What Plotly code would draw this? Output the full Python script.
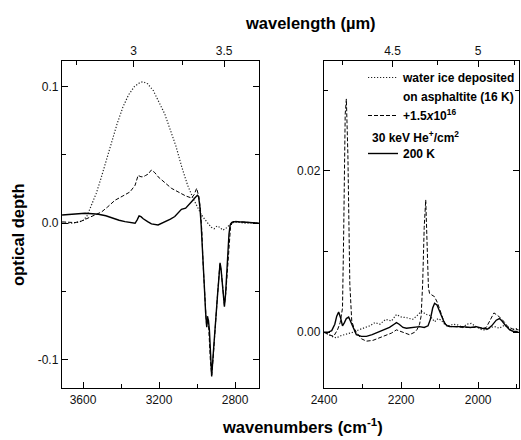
import plotly.graph_objects as go

# ---------------- data ----------------
# Left panel (3 µm region), wavenumber cm-1 / optical depth
wn_left_water = [3710, 3660, 3620, 3600, 3580, 3555, 3530, 3505, 3480, 3450, 3420, 3390, 3360, 3330,
                 3300, 3283, 3260, 3230, 3200, 3170, 3140, 3110, 3080, 3050, 3020, 3000, 2980, 2960,
                 2940, 2925, 2910, 2895, 2880, 2865, 2850, 2835, 2820, 2800, 2770, 2740, 2710, 2674]
od_left_water = [0.0, 0.0, 0.001, 0.002, 0.005, 0.013, 0.022, 0.033, 0.045, 0.060, 0.073, 0.085, 0.094, 0.100,
                 0.103, 0.1035, 0.102, 0.097, 0.089, 0.080, 0.068, 0.056, 0.041, 0.028, 0.018, 0.012, 0.007, 0.003,
                 0.000, -0.003, -0.004, -0.002, -0.003, -0.005, -0.004, -0.002, 0.000, 0.001, 0.0005, 0.0, 0.0005, 0.0]

wn_left_irr = [3710, 3680, 3642, 3610, 3572, 3540, 3502, 3470, 3432, 3390, 3353, 3326, 3310, 3295, 3283,
               3270, 3257, 3240, 3222, 3205, 3170, 3135, 3100, 3060, 3029, 3015, 3002, 2990, 2982, 2975,
               2968, 2958, 2950, 2944, 2938, 2930, 2923, 2916, 2908, 2893, 2880, 2872, 2864, 2856, 2848,
               2840, 2832, 2824, 2815, 2800, 2780, 2750, 2720, 2690, 2674]
od_left_irr = [0.001, 0.0008, 0.0005, 0.0015, 0.0037, 0.006, 0.0083, 0.012, 0.0168, 0.020, 0.0229, 0.0278,
               0.035, 0.034, 0.034, 0.035, 0.036, 0.039, 0.037, 0.034, 0.030, 0.0256, 0.023, 0.020, 0.0185,
               0.021, 0.0256, 0.019, 0.010, -0.005, -0.030, -0.060, -0.075, -0.068, -0.078, -0.100, -0.111,
               -0.100, -0.082, -0.054, -0.030, -0.036, -0.048, -0.060, -0.050, -0.034, -0.014, -0.003,
               0.0005, 0.0015, 0.0012, 0.001, 0.0005, 0.0003, 0.0]

wn_left_200k = [3710, 3650, 3589, 3550, 3519, 3480, 3449, 3410, 3379, 3340, 3326, 3315, 3305, 3295, 3283,
                3260, 3240, 3205, 3170, 3140, 3117, 3100, 3082, 3060, 3045, 3029, 3012, 2998, 2992, 2985,
                2978, 2970, 2962, 2955, 2949, 2944, 2940, 2935, 2930, 2923, 2916, 2909, 2900, 2893, 2885,
                2879, 2874, 2868, 2862, 2856, 2850, 2844, 2838, 2832, 2826, 2818, 2809, 2790, 2774, 2740,
                2710, 2674]
od_left_200k = [0.0061, 0.0068, 0.0073, 0.0070, 0.0066, 0.0055, 0.0040, 0.0022, 0.0012, 0.0002, 0.0, 0.0025,
                0.0054, 0.0048, 0.0033, 0.0012, -0.0005, -0.0012, 0.0008, 0.0030, 0.0049, 0.0075, 0.0102,
                0.0110, 0.0130, 0.0158, 0.0185, 0.0205, 0.0195, 0.012, -0.002, -0.020, -0.045, -0.065,
                -0.076, -0.069, -0.071, -0.078, -0.095, -0.112, -0.098, -0.082, -0.066, -0.054, -0.040,
                -0.029, -0.033, -0.041, -0.052, -0.061, -0.052, -0.034, -0.020, -0.008, -0.0015, 0.0005,
                0.0012, 0.0012, 0.001, 0.0008, 0.0004, 0.0]

# Right panel (4-5 µm region)
wn_right_water = [2400, 2390, 2380, 2368, 2355, 2340, 2325, 2310, 2295, 2281, 2268, 2255, 2240, 2225, 2212,
                  2200, 2185, 2170, 2160, 2147, 2134, 2126, 2113, 2104, 2096, 2087, 2078, 2065, 2052, 2040,
                  2030, 2018, 2005, 1990, 1979, 1968, 1957, 1945, 1931, 1922, 1914, 1905, 1895]
od_right_water = [0.0, -0.0002, -0.0005, -0.0007, -0.0004, -0.0002, 0.0, 0.0003, 0.0006, 0.0008, 0.0012,
                  0.0010, 0.0016, 0.0014, 0.0022, 0.0019, 0.0018, 0.0016, 0.0020, 0.0026, 0.0022, 0.0021,
                  0.0013, 0.0017, 0.0015, 0.0010, 0.0007, 0.0010, 0.0009, 0.0006, 0.0010, 0.0011, 0.0007,
                  0.0003, 0.0003, 0.0006, 0.0007, 0.0005, 0.0009, 0.0006, 0.0003, 0.0004, 0.0005]

wn_right_irr = [2400, 2388, 2375, 2365, 2358, 2352, 2349, 2345, 2342, 2338, 2333, 2328, 2322, 2316, 2303,
                2290, 2273, 2256, 2240, 2225, 2212, 2195, 2178, 2165, 2159, 2152, 2148, 2144, 2140, 2136,
                2132, 2129, 2126, 2120, 2113, 2106, 2100, 2090, 2083, 2070, 2061, 2040, 2020, 2000, 1985,
                1979, 1970, 1959, 1950, 1940, 1931, 1923, 1910, 1901, 1895]
od_right_irr = [0.0, -0.0003, -0.0005, 0.0003, 0.0012, 0.003, 0.012, 0.027, 0.0289, 0.022, 0.006, 0.0014,
                0.0005, 0.0, -0.0008, -0.0011, -0.0010, -0.0007, -0.0004, -0.0001, 0.0003, 0.0, -0.0003,
                0.0, 0.0003, 0.0010, 0.0020, 0.006, 0.013, 0.0164, 0.010, 0.0055, 0.0048, 0.0046, 0.0044,
                0.0037, 0.0028, 0.0015, 0.0009, 0.0007, 0.0007, 0.0006, 0.0006, 0.0006, 0.0005, 0.0006,
                0.0014, 0.0024, 0.0021, 0.0017, 0.0012, 0.0007, 0.0004, 0.0003, 0.0003]

wn_right_200k = [2400, 2390, 2380, 2372, 2367, 2362, 2357, 2352, 2347, 2342, 2336, 2330, 2323, 2316, 2303,
                 2290, 2275, 2260, 2245, 2230, 2218, 2212, 2205, 2195, 2186, 2170, 2152, 2140, 2130, 2124,
                 2118, 2113, 2107, 2100, 2093, 2087, 2080, 2074, 2060, 2040, 2020, 2005, 1990, 1975, 1965,
                 1953, 1945, 1940, 1930, 1918, 1908, 1901, 1895]
od_right_200k = [0.0, 0.0, 0.0002, 0.0010, 0.0020, 0.0025, 0.0018, 0.0008, 0.0012, 0.0017, 0.0019, 0.0012,
                 0.0003, -0.0003, -0.0005, -0.0005, -0.0003, 0.0, 0.0003, 0.0006, 0.0010, 0.0012, 0.0010,
                 0.0006, 0.0005, 0.0006, 0.0007, 0.0006, 0.0008, 0.0016, 0.0030, 0.0036, 0.0034, 0.0026,
                 0.0017, 0.0011, 0.0008, 0.0007, 0.0007, 0.0007, 0.0006, 0.0007, 0.0005, 0.0004, 0.0008,
                 0.0015, 0.0017, 0.0015, 0.0009, 0.0003, 0.0001, 0.0001, 0.0]

# tick values / labels
left_x_ticks = [3600, 3200, 2800]
left_x_minor = [3400, 3000]
right_x_ticks = [2400, 2200, 2000]
right_x_minor = [2300, 2100, 1900]
left_top_um = [3, 3.5]
left_top_um_minor = [2.75, 3.25]
right_top_um = [4.5, 5]
right_top_um_minor = [4.25, 4.75, 5.25]
left_y_ticks = [-0.1, 0.0, 0.1]
left_y_labels = ["-0.1", "0.0", "0.1"]
left_y_minor = [-0.05, 0.05]
right_y_ticks = [0.0, 0.02]
right_y_labels = ["0.00", "0.02"]
right_y_minor = [0.01, 0.03]

legend_names = ["<b>water ice deposited</b>", "<b>on asphaltite (16 K)</b>",
                "<b>+1.5<i>x</i>10<sup>16</sup></b>", " ", "<b>200 K</b>"]

# ---------------- figure ----------------
W, H = 521, 440
FONT = "Liberation Sans, Arial, sans-serif"


def fx(p):
    return p / W


def fy(p):
    return 1 - p / H


DOT = dict(color="#222222", width=1.2, dash="1.2px,1.8px")
DASH = dict(color="#000000", width=1, dash="4px,2px")
SOLID = dict(color="#000000", width=1.4)

fig = go.Figure()
# left panel
fig.add_trace(go.Scatter(x=wn_left_water, y=od_left_water, mode="lines", line=DOT,
                         xaxis="x", yaxis="y", showlegend=False, hoverinfo="skip"))
fig.add_trace(go.Scatter(x=wn_left_irr, y=od_left_irr, mode="lines", line=DASH,
                         xaxis="x", yaxis="y", showlegend=False, hoverinfo="skip"))
fig.add_trace(go.Scatter(x=wn_left_200k, y=od_left_200k, mode="lines", line=SOLID,
                         xaxis="x", yaxis="y", showlegend=False, hoverinfo="skip"))
# right panel
fig.add_trace(go.Scatter(x=wn_right_water, y=od_right_water, mode="lines", line=DOT,
                         xaxis="x2", yaxis="y2", name=legend_names[0], legendrank=1, hoverinfo="skip"))
fig.add_trace(go.Scatter(x=[None], y=[None], mode="lines", line=dict(color="rgba(0,0,0,0)"),
                         xaxis="x2", yaxis="y2", name=legend_names[1], legendrank=2, hoverinfo="skip"))
fig.add_trace(go.Scatter(x=wn_right_irr, y=od_right_irr, mode="lines", line=DASH,
                         xaxis="x2", yaxis="y2", name=legend_names[2], legendrank=3, hoverinfo="skip"))
fig.add_trace(go.Scatter(x=[None], y=[None], mode="lines", line=dict(color="rgba(0,0,0,0)"),
                         xaxis="x2", yaxis="y2", name=legend_names[3], legendrank=4, hoverinfo="skip"))
fig.add_trace(go.Scatter(x=wn_right_200k, y=od_right_200k, mode="lines", line=SOLID,
                         xaxis="x2", yaxis="y2", name=legend_names[4], legendrank=5, hoverinfo="skip"))
# helper traces so the top (wavelength) axes exist
fig.add_trace(go.Scatter(x=[None], y=[None], xaxis="x3", yaxis="y", showlegend=False, hoverinfo="skip"))
fig.add_trace(go.Scatter(x=[None], y=[None], xaxis="x4", yaxis="y2", showlegend=False, hoverinfo="skip"))

LEFT_XR = [3710.5, 2674]
RIGHT_XR = [2400, 1894]
YDOM = [fy(388), fy(61)]
tickfont = dict(family=FONT, size=12, color="#111111")

common = dict(showline=True, linecolor="#000000", linewidth=1.4, ticks="inside", ticklen=6,
              tickwidth=1.2, tickcolor="#000000", showgrid=False, zeroline=False, tickfont=tickfont,
              tickmode="array", layer="above traces")


def minor(vals):
    return dict(tickmode="array", tickvals=vals, ticks="inside", ticklen=4, tickwidth=1.2,
                tickcolor="#000000", showgrid=False)


fig.update_layout(
    template="none",
    width=W, height=H,
    margin=dict(l=0, r=0, t=0, b=0),
    paper_bgcolor="white", plot_bgcolor="rgba(0,0,0,0)",
    showlegend=True,
    legend=dict(x=fx(363), y=fy(63), xanchor="left", yanchor="top", traceorder="normal",
                bgcolor="rgba(0,0,0,0)", borderwidth=0, itemwidth=30,
                font=dict(family=FONT, size=12, color="black")),
    xaxis=dict(domain=[fx(62), fx(259)], range=LEFT_XR, anchor="y", tickvals=left_x_ticks,
               ticktext=[str(v) for v in left_x_ticks], minor=minor(left_x_minor), **common),
    xaxis3=dict(overlaying="x", anchor="y", side="top", range=LEFT_XR,
                tickvals=[10000 / v for v in left_top_um], ticktext=[f"{v:g}" for v in left_top_um],
                minor=minor([10000 / v for v in left_top_um_minor]), **common),
    yaxis=dict(domain=YDOM, range=[-0.1205, 0.1187], anchor="x", tickvals=left_y_ticks,
               ticktext=left_y_labels, mirror="ticks", minor=minor(left_y_minor), **common),
    xaxis2=dict(domain=[fx(324), fx(519)], range=RIGHT_XR, anchor="y2", tickvals=right_x_ticks,
                ticktext=[str(v) for v in right_x_ticks], minor=minor(right_x_minor), **common),
    xaxis4=dict(overlaying="x2", anchor="y2", side="top", range=RIGHT_XR,
                tickvals=[10000 / v for v in right_top_um], ticktext=[f"{v:g}" for v in right_top_um],
                minor=minor([10000 / v for v in right_top_um_minor]), **common),
    yaxis2=dict(domain=YDOM, range=[-0.0069, 0.0336], anchor="x2", tickvals=right_y_ticks,
                ticktext=right_y_labels, mirror="ticks", minor=minor(right_y_minor), **common),
)

title_font = dict(family=FONT, size=16.5, color="black")
fig.add_annotation(text="<b>wavelength (µm)</b>", x=fx(310), y=fy(23), xref="paper", yref="paper",
                   showarrow=False, xanchor="center", yanchor="middle", font=title_font)
fig.add_annotation(text="<b>wavenumbers (cm<sup>-1</sup>)</b>", x=fx(302), y=fy(426), xref="paper",
                   yref="paper", showarrow=False, xanchor="center", yanchor="middle", font=title_font)
fig.add_annotation(text="<b>optical depth</b>", x=fx(18), y=fy(235), xref="paper", yref="paper",
                   showarrow=False, xanchor="center", yanchor="middle", textangle=-90, font=title_font)
fig.add_annotation(text="<b>30 keV He<sup>+</sup>/cm<sup>2</sup></b>", x=fx(370), y=fy(137),
                   xref="paper", yref="paper", showarrow=False, xanchor="left", yanchor="middle",
                   font=dict(family=FONT, size=12, color="black"))

fig.write_html("out.html", config={"displayModeBar": False},
               post_script="document.body.style.margin='0px';")
